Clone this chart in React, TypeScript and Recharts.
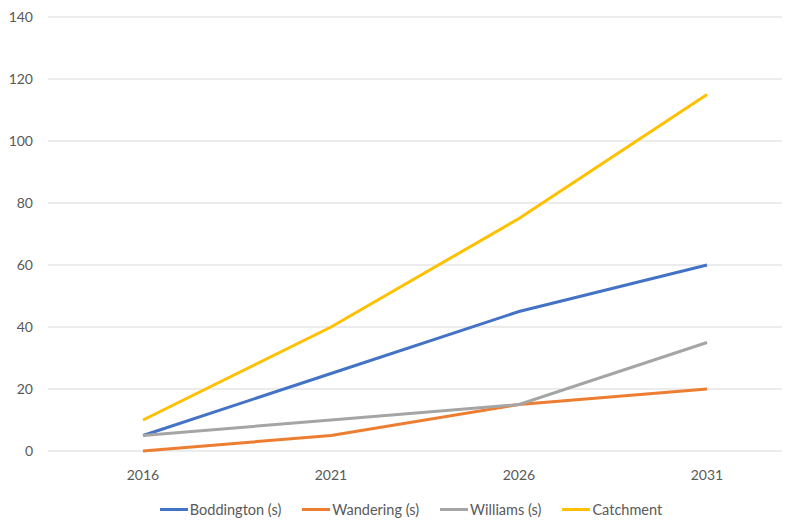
import { LineChart, Line, XAxis, YAxis, CartesianGrid } from 'recharts'

const years = ['2016', '2021', '2026', '2031']
const boddington = [5, 25, 45, 60]
const wandering = [0, 5, 15, 20]
const williams = [5, 10, 15, 35]
const catchment = [10, 40, 75, 115]
const yTicks = [0, 20, 40, 60, 80, 100, 120, 140]

const SERIES = [
  { key: 'boddington', name: 'Boddington (s)', color: '#4472C4' },
  { key: 'wandering', name: 'Wandering (s)', color: '#ED7D31' },
  { key: 'williams', name: 'Williams (s)', color: '#A5A5A5' },
  { key: 'catchment', name: 'Catchment', color: '#FFC000' },
]

const FONT = 'Lato, "Open Sans", sans-serif'
const TEXT = '#595959'

const data = years.map((year, i) => ({
  year,
  boddington: boddington[i],
  wandering: wandering[i],
  williams: williams[i],
  catchment: catchment[i],
}))

export default function App() {
  return (
    <div style={{ position: 'relative', width: 782, height: 514, fontFamily: FONT }}>
      <LineChart width={782} height={480} data={data} margin={{ top: 9, right: 0, bottom: 0, left: 0 }}>
        <CartesianGrid vertical={false} stroke="#D9D9D9" strokeWidth={1} />
        <XAxis
          dataKey="year"
          height={37}
          axisLine={false}
          tickLine={false}
          tickMargin={13}
          padding={{ left: 95, right: 83 }}
          tick={{ fill: TEXT, fontSize: 14, fontFamily: FONT }}
        />
        <YAxis
          width={40}
          domain={[0, 140]}
          ticks={yTicks}
          axisLine={false}
          tickLine={false}
          tickSize={0}
          tickMargin={15}
          tick={{ fill: TEXT, fontSize: 14, fontFamily: FONT }}
        />
        {SERIES.map(s => (
          <Line
            key={s.key}
            dataKey={s.key}
            name={s.name}
            stroke={s.color}
            strokeWidth={3}
            dot={false}
            activeDot={false}
            isAnimationActive={false}
          />
        ))}
      </LineChart>
      <div
        style={{
          position: 'absolute',
          top: 493,
          left: 0,
          width: 782,
          display: 'flex',
          justifyContent: 'center',
          gap: 21,
          paddingLeft: 24,
          boxSizing: 'border-box',
        }}
      >
        {SERIES.map(s => (
          <div key={s.key} style={{ display: 'flex', alignItems: 'center', color: TEXT, fontSize: 14.5 }}>
            <span style={{ display: 'inline-block', width: 28, height: 3, background: s.color, marginRight: 2 }} />
            {s.name}
          </div>
        ))}
      </div>
    </div>
  )
}
